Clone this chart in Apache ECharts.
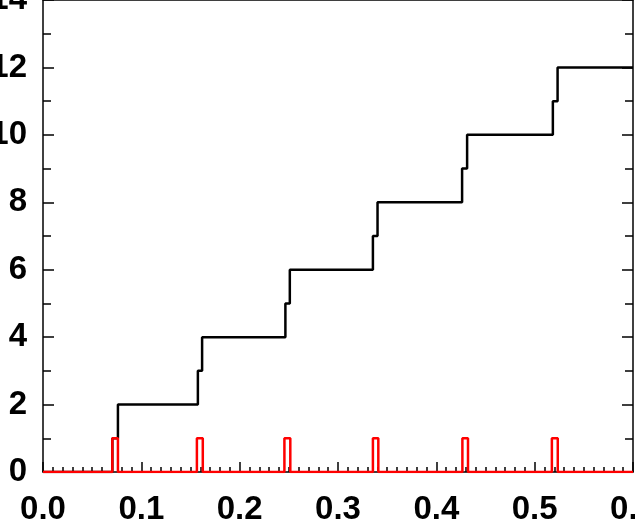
<!DOCTYPE html>
<html style="height: 100%">
<head>
  <meta charset="utf-8">
</head>
<body style="height: 100%; margin: 0; background: #fff">
  <div id="container" style="width: 635px; height: 520px"></div>

  <script type="text/javascript" src="https://cdn.jsdelivr.net/npm/echarts@6/dist/echarts.min.js"></script>
  <script type="text/javascript">
    // cumulative count: x where it steps up, and the value after each step
    var countX = [0.0705, 0.0762, 0.1575, 0.1618, 0.2465, 0.2510,
                  0.3355, 0.3402, 0.4262, 0.4313, 0.5185, 0.5233];
    var countY = [1, 2, 3, 4, 5, 6, 7, 8, 9, 10, 11, 12];
    // red pulses (start, end, height)
    var pulseStart = [0.0705, 0.1565, 0.2455, 0.3355, 0.4265, 0.5175];
    var pulseEnd = [0.0762, 0.1625, 0.2515, 0.3410, 0.4322, 0.5235];
    var pulseHeight = 1;
    var xMin = 0, xMax = 0.6;

    var dom = document.getElementById('container');
    var myChart = echarts.init(dom);

    var blackData = [[xMin, 0]];
    countX.forEach(function (x, i) { blackData.push([x, countY[i]]); });
    blackData.push([xMax, countY[countY.length - 1]]);

    var redData = [[xMin, 0]];
    pulseStart.forEach(function (s, i) {
      redData.push([s, pulseHeight]);
      redData.push([pulseEnd[i], 0]);
    });
    redData.push([xMax, 0]);

    var labelFont = {
      color: '#000',
      fontFamily: 'Liberation Sans',
      fontWeight: 'bold',
      fontSize: 33
    };
    var frameLine = { show: true, onZero: false, lineStyle: { color: '#000', width: 1.5 } };
    var tickStyle = { color: '#000', width: 1.5 };

    var option = {
      animation: false,
      backgroundColor: '#fff',
      grid: { left: 43, right: 2, top: 0, bottom: 48, containLabel: false, outerBoundsMode: 'none' },
      xAxis: [
        {
          type: 'value',
          position: 'bottom',
          min: xMin,
          max: xMax,
          interval: 0.1,
          axisLine: frameLine,
          axisTick: { show: true, inside: true, length: 10, lineStyle: tickStyle },
          minorTick: { show: true, splitNumber: 10, length: 5, lineStyle: tickStyle },
          splitLine: { show: false },
          axisLabel: Object.assign({
            margin: 21,
            showMinLabel: true,
            showMaxLabel: true,
            hideOverlap: false,
            formatter: function (v) { return v.toFixed(1); }
          }, labelFont)
        },
        {
          type: 'value',
          position: 'top',
          min: xMin,
          max: xMax,
          interval: 0.1,
          axisLine: frameLine,
          axisTick: { show: false },
          axisLabel: { show: false },
          splitLine: { show: false }
        }
      ],
      yAxis: [
        {
          type: 'value',
          position: 'left',
          min: 0,
          max: 14,
          interval: 2,
          axisLine: frameLine,
          axisTick: { show: true, inside: true, length: 11, lineStyle: tickStyle },
          minorTick: { show: true, splitNumber: 2, length: 8, lineStyle: tickStyle },
          splitLine: { show: false },
          axisLabel: Object.assign({ margin: 16, showMinLabel: true, showMaxLabel: true }, labelFont)
        },
        {
          type: 'value',
          position: 'right',
          min: 0,
          max: 14,
          interval: 2,
          axisLine: frameLine,
          axisTick: { show: true, inside: true, length: 11, lineStyle: tickStyle },
          minorTick: { show: true, splitNumber: 2, length: 8, lineStyle: tickStyle },
          splitLine: { show: false },
          axisLabel: { show: false }
        }
      ],
      series: [
        {
          type: 'line',
          step: 'end',
          data: blackData,
          showSymbol: false,
          lineStyle: { color: '#000', width: 2.5 },
          z: 3
        },
        {
          type: 'line',
          step: 'end',
          data: redData,
          showSymbol: false,
          lineStyle: { color: '#f00', width: 2.5 },
          z: 4
        }
      ]
    };

    myChart.setOption(option);
  </script>
</body>
</html>
